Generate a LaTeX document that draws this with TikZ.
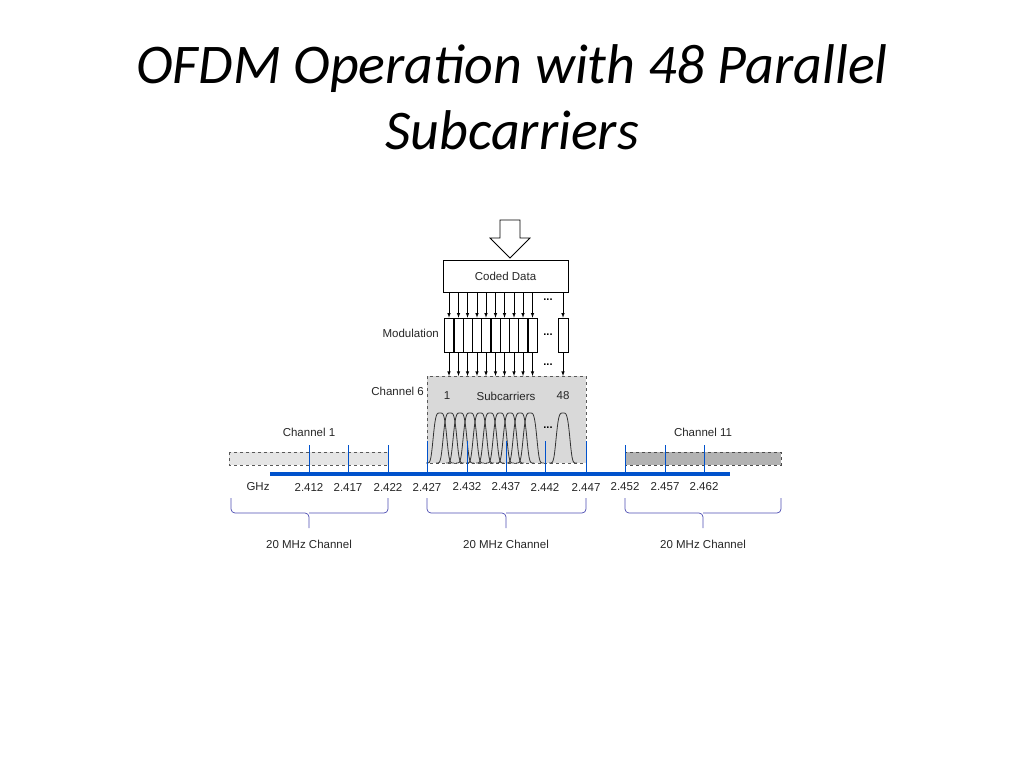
\documentclass[tikz,border=0pt]{standalone}
\usepackage{fontspec}
\setmainfont{Liberation Sans}
\newfontfamily\titlefont{Carlito}
\begin{document}
\begin{tikzpicture}[x=1pt,y=-1pt,
  lbl/.style={font=\fontsize{11.5}{13}\selectfont,inner sep=0pt,text=black!85},
  tick/.style={draw=blue!60!cyan!80!black,line width=0.8pt},
  brc/.style={draw=blue!40!gray,line width=0.7pt,rounded corners=4pt},
  arr/.style={-latex,line width=0.6pt},
  dots/.style={font=\bfseries\fontsize{11}{11}\selectfont,inner sep=0pt},
  curve/.style={line width=0.8pt,black!80}]
\useasboundingbox (0,0) rectangle (1024,768);
\node[font=\titlefont\itshape\fontsize{56}{66}\selectfont,align=center] (title) at (512,97) {OFDM Operation with 48 Parallel\\Subcarriers};
% hollow arrow
\draw[line width=0.8pt] (500,220) -- (520,220) -- (520,238) -- (530,238) -- (510,258) -- (490,238) -- (500,238) -- cycle;
\node[draw,line width=0.7pt,minimum width=125pt,minimum height=32pt,inner sep=0pt,lbl] (cd) at (505.5,276) {Coded Data};
% channel 6 box
\fill[gray!30] (427,376) rectangle (586,463);
\draw[dashed,gray!70!black,line width=0.7pt] (427,376) rectangle (586,463);
\node[lbl,anchor=east] (ch6) at (424,391) {Channel 6};
\node[lbl] (s1) at (447,396) {1};
\node[lbl] (ss) at (506,396) {Subcarriers};
\node[lbl] (s48) at (563,396) {48};
% modulation
\foreach \i [count=\k] in {449,458.5,467.5,477,486,495.5,504.5,514,523,532.5}{
  \node[draw,line width=0.6pt,minimum width=9.4pt,minimum height=34pt,inner sep=0pt] (m\k) at (\i,335) {};
  \draw[arr] (\i,292) -- (m\k.north);
  \draw[arr] (m\k.south) -- (\i,376);
}
\node[draw,line width=0.6pt,minimum width=10pt,minimum height=34pt,inner sep=0pt] (mx) at (563,335) {};
\draw[arr] (563,292) -- (mx.north);
\draw[arr] (mx.south) -- (563,376);
\node[lbl,anchor=east] (mod) at (439,333) {Modulation};
\foreach \y/\n in {300/a,335/b,365/c} \node[dots] (d\n) at (548,\y) {...};
\node[dots] (dd) at (548,428) {...};
% curves
\foreach \c in {440,450,460,470,480,490,500,510,520,530}
  \draw[curve] plot[smooth,domain=-14:14,samples=41] ({\c+\x},{463-50*exp(-((\x/7.5)^4))});
\draw[curve] plot[smooth,domain=-14:14,samples=41] ({563+\x},{463-50*exp(-((\x/7.5)^4))});
% channel 1 and 11
\fill[gray!20] (229,452) rectangle (388,465);
\draw[dashed,gray!70!black,line width=0.7pt] (229,452) rectangle (388,465);
\fill[gray!60] (625,452) rectangle (781,465);
\draw[dashed,gray!60!black,line width=0.7pt] (625,452) rectangle (781,465);
\node[lbl] (c1) at (309,432) {Channel 1};
\node[lbl] (c11) at (703,432) {Channel 11};
% axis
\draw[line width=4pt,blue!60!cyan!80!black] (270,474) -- (730,474);
\foreach \px/\lab/\ytop in {309/2.412/445,348/2.417/445,388/2.422/445,427/2.427/441,467/2.432/441,506/2.437/441,545/2.442/441,586/2.447/441,625/2.452/445,665/2.457/445,704/2.462/445}{
  \draw[tick] (\px,\ytop) -- (\px,474);
  \node[lbl] at (\px,487) {\lab};
}
\node[lbl] (ghz) at (258,487) {GHz};
% braces
\foreach \a/\b/\m in {231/388/309,427/586/506,625/781/703}{
  \draw[brc] (\a,498) -- (\a,513) -- (\m,513) -- (\m,528);
  \draw[brc] (\b,498) -- (\b,513) -- (\m,513);
  \node[lbl] at (\m,544) {20 MHz Channel};
}
\end{tikzpicture}
\end{document}
